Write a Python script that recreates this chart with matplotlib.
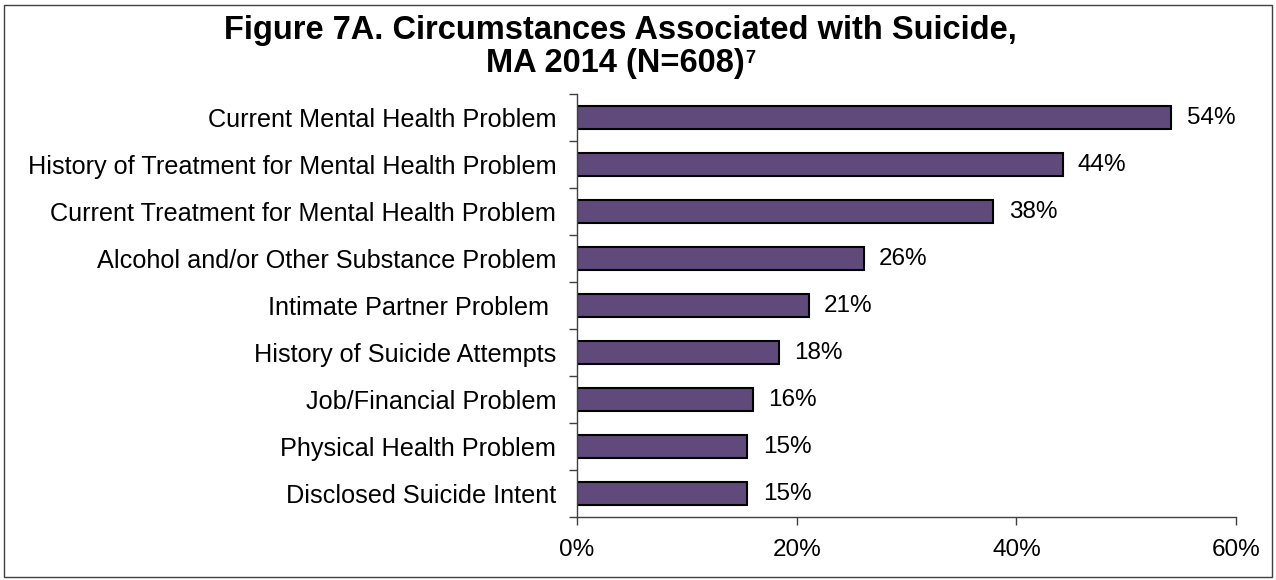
import numpy as np
import matplotlib.pyplot as plt
from matplotlib.patches import Rectangle

plt.rcParams['font.family'] = ['Liberation Sans', 'DejaVu Sans']

categories = ["Current Mental Health Problem",
              "History of Treatment for Mental Health Problem",
              "Current Treatment for Mental Health Problem",
              "Alcohol and/or Other Substance Problem",
              "Intimate Partner Problem ",
              "History of Suicide Attempts",
              "Job/Financial Problem",
              "Physical Health Problem",
              "Disclosed Suicide Intent"]
values = [54.1, 44.2, 37.9, 26.1, 21.1, 18.4, 16.0, 15.5, 15.5]
labels = ["54%", "44%", "38%", "26%", "21%", "18%", "16%", "15%", "15%"]
xticks = [0, 20, 40, 60]

fs = 18.2

fig = plt.figure(figsize=(12.76, 5.80), dpi=100)
ax = fig.add_axes([0.4522, 0.1086, 0.5165, 0.7293])

y = np.arange(len(categories))
ax.barh(y, values, height=0.48, color='#604a7b', edgecolor='black', linewidth=1.5)
for yi, v, lab in zip(y, values, labels):
    ax.text(v + 1.4, yi, lab, va='center', ha='left', fontsize=17.5)

ax.set_ylim(len(categories) - 0.5, -0.5)
ax.set_xlim(0, 60)
ax.set_yticks(y)
ax.set_yticklabels(categories, fontsize=fs)
ax.set_yticks(np.arange(-0.5, len(categories)), minor=True)
ax.tick_params(axis='y', which='major', length=0, pad=15)
ax.tick_params(axis='y', which='minor', length=6, width=1, color='#404040')
ax.set_xticks(xticks)
ax.set_xticklabels([f"{t}%" for t in xticks], fontsize=17.5)
ax.tick_params(axis='x', length=6, width=1, color='#404040', pad=10)
for s in ['top', 'right']:
    ax.spines[s].set_visible(False)
for s in ['left', 'bottom']:
    ax.spines[s].set_color('#404040')
    ax.spines[s].set_linewidth(1)

# title, with a small superscript footnote mark
fig.text(0.486, 0.948, "Figure 7A. Circumstances Associated with Suicide,",
         ha='center', va='center', fontsize=23.5, fontweight='bold')
t2 = fig.text(0.482, 0.890, "MA 2014 (N=608)",
              ha='center', va='center', fontsize=23.5, fontweight='bold')
r = fig.canvas.get_renderer()
bb = t2.get_window_extent(r).transformed(fig.transFigure.inverted())
fig.text(bb.x1 + 0.001, bb.y1 - 0.003, "7", ha='left', va='top',
         fontsize=13, fontweight='bold')

fig.patches.append(Rectangle((0.003, 0.005), 0.994, 0.987, transform=fig.transFigure,
                             fill=False, edgecolor='#404040', linewidth=1))

fig.savefig("out.png", dpi=100)
